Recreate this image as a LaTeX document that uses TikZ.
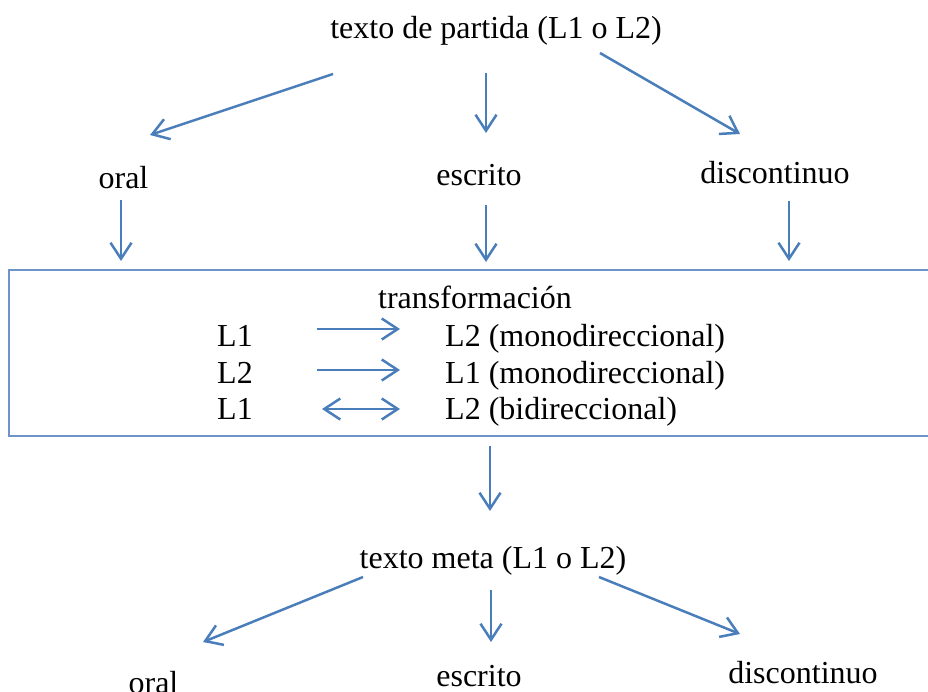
\documentclass[tikz,border=0pt]{standalone}
\usepackage{fontspec}
\setmainfont{Liberation Serif}
\usetikzlibrary{arrows.meta}
\definecolor{arrowblue}{RGB}{74,126,187}
\definecolor{boxblue}{RGB}{110,147,202}
\tikzset{
  lbl/.style={inner sep=0pt, anchor=base, font=\fontsize{32}{38}\selectfont},
  lblw/.style={inner sep=0pt, anchor=base west, font=\fontsize{32}{38}\selectfont},
  conn/.style={draw=arrowblue, line width=2.5pt, -{Straight Barb[length=16pt,width=21pt,line width=2.5pt]}},
  dconn/.style={draw=arrowblue, line width=2.5pt, {Straight Barb[length=16pt,width=21pt,line width=2.5pt]}-{Straight Barb[length=16pt,width=21pt,line width=2.5pt]}},
  boxline/.style={draw=boxblue, line width=1.4pt}
}
\begin{document}
\begin{tikzpicture}[x=1pt,y=-1pt]
\useasboundingbox (0,0) rectangle (928,691);
% texts
\node[lbl] (src) at (496,38) {texto de partida (L1 o L2)};
\node[lbl] (oral1) at (123.5,188) {oral};
\node[lbl] (escr1) at (479,185) {escrito};
\node[lbl] (disc1) at (775,183) {discontinuo};
\node[lbl] (transf) at (475,308) {transformación};
\node[lblw] (r1a) at (217,346) {L1};
\node[lblw] (r1b) at (445,346) {L2 (monodireccional)};
\node[lblw] (r2a) at (217,383) {L2};
\node[lblw] (r2b) at (445,383) {L1 (monodireccional)};
\node[lblw] (r3a) at (217,419) {L1};
\node[lblw] (r3b) at (445,419) {L2 (bidireccional)};
\node[lbl] (meta) at (493,568) {texto meta (L1 o L2)};
\node[lbl] (oral2) at (153.5,693) {oral};
\node[lbl] (escr2) at (479,686) {escrito};
\node[lbl] (disc2) at (803,683) {discontinuo};
% box (open on the right)
\draw[boxline] (929,270) -- (9,270) -- (9,436) -- (929,436);
% arrow end points
\coordinate (a1s) at (333,74);  \coordinate (a1e) at (150,135);
\coordinate (a2s) at (486,73);  \coordinate (a2e) at (486,133);
\coordinate (a3s) at (600,53);  \coordinate (a3e) at (740,134);
\coordinate (b1s) at (121,200); \coordinate (b1e) at (121,261);
\coordinate (b2s) at (486,205); \coordinate (b2e) at (486,262);
\coordinate (b3s) at (789,201); \coordinate (b3e) at (789,261);
\coordinate (t1s) at (317,329); \coordinate (t1e) at (400,329);
\coordinate (t2s) at (317,370); \coordinate (t2e) at (400,370);
\coordinate (t3s) at (322,409); \coordinate (t3e) at (400,409);
\coordinate (ms) at (490,446);  \coordinate (me) at (490,511);
\coordinate (c1s) at (363,577); \coordinate (c1e) at (203,642);
\coordinate (c2s) at (491,590); \coordinate (c2e) at (491,642);
\coordinate (c3s) at (599,577); \coordinate (c3e) at (740,634);
% connectors
\draw[conn] (a1s) -- (a1e);
\draw[conn] (a2s) -- (a2e);
\draw[conn] (a3s) -- (a3e);
\draw[conn] (b1s) -- (b1e);
\draw[conn] (b2s) -- (b2e);
\draw[conn] (b3s) -- (b3e);
\draw[conn] (t1s) -- (t1e);
\draw[conn] (t2s) -- (t2e);
\draw[dconn] (t3s) -- (t3e);
\draw[conn] (ms) -- (me);
\draw[conn] (c1s) -- (c1e);
\draw[conn] (c2s) -- (c2e);
\draw[conn] (c3s) -- (c3e);
\end{tikzpicture}
\end{document}
